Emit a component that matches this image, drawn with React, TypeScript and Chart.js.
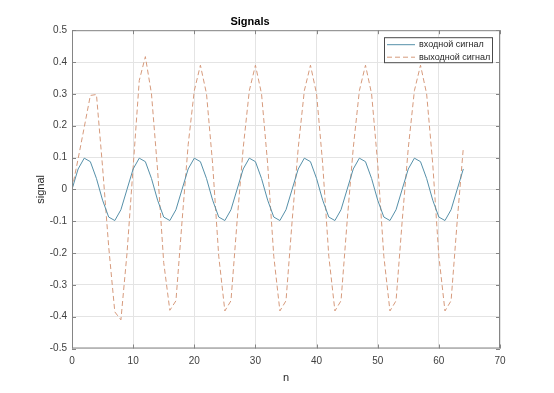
import React, { useEffect, useRef } from "react";
import { Chart, registerables } from "chart.js";

Chart.register(...registerables);

const nValues: number[] = [
  0, 1, 2, 3, 4, 5, 6, 7, 8, 9, 10, 11, 12, 13, 14, 15, 16, 17, 18, 19, 20,
  21, 22, 23, 24, 25, 26, 27, 28, 29, 30, 31, 32, 33, 34, 35, 36, 37, 38, 39,
  40, 41, 42, 43, 44, 45, 46, 47, 48, 49, 50, 51, 52, 53, 54, 55, 56, 57, 58,
  59, 60, 61, 62, 63, 64,
];

const inputSignal: number[] = [
  0, 0.064, 0.098, 0.087, 0.034, -0.034, -0.087, -0.098, -0.064,
  0, 0.064, 0.098, 0.087, 0.034, -0.034, -0.087, -0.098, -0.064,
  0, 0.064, 0.098, 0.087, 0.034, -0.034, -0.087, -0.098, -0.064,
  0, 0.064, 0.098, 0.087, 0.034, -0.034, -0.087, -0.098, -0.064,
  0, 0.064, 0.098, 0.087, 0.034, -0.034, -0.087, -0.098, -0.064,
  0, 0.064, 0.098, 0.087, 0.034, -0.034, -0.087, -0.098, -0.064,
  0, 0.064, 0.098, 0.087, 0.034, -0.034, -0.087, -0.098, -0.064,
  0, 0.064,
];

const outputSignal: number[] = [
  0, 0.096, 0.195, 0.295, 0.298, 0.07, -0.18, -0.385, -0.41,
  -0.2, 0.07, 0.342, 0.417, 0.3, 0.06, -0.23, -0.38, -0.35,
  -0.1, 0.14, 0.31, 0.39, 0.3, 0.08, -0.21, -0.382, -0.35,
  -0.1, 0.13, 0.31, 0.39, 0.3, 0.08, -0.21, -0.382, -0.35,
  -0.1, 0.13, 0.31, 0.39, 0.3, 0.08, -0.21, -0.382, -0.35,
  -0.1, 0.13, 0.31, 0.39, 0.3, 0.08, -0.21, -0.382, -0.35,
  -0.1, 0.13, 0.31, 0.39, 0.3, 0.08, -0.21, -0.382, -0.35,
  -0.1, 0.13,
];

const seriesLabels: string[] = ["входной сигнал", "выходной сигнал"];
const titleText = "Signals";
const xTitle = "n";
const yTitle = "signal";

const FONT = "'Liberation Sans', Arial, Helvetica, sans-serif";
const BOX = "#858585";
const INPUT_COLOR = "#5690a9";
const OUTPUT_COLOR = "#d69a7c";

const boxPlugin = {
  id: "matlabBox",
  afterDraw(chart: any) {
    const { ctx, chartArea: a, scales } = chart;
    ctx.save();
    ctx.strokeStyle = BOX;
    ctx.lineWidth = 1;
    ctx.setLineDash([]);
    ctx.strokeRect(a.left + 0.5, a.top + 0.5, a.right - a.left - 1, a.bottom - a.top - 1);
    const tl = 4;
    ctx.beginPath();
    scales.x.ticks.forEach((t: any) => {
      const px = Math.round(scales.x.getPixelForValue(t.value)) + 0.5;
      ctx.moveTo(px, a.bottom);
      ctx.lineTo(px, a.bottom - tl);
      ctx.moveTo(px, a.top);
      ctx.lineTo(px, a.top + tl);
    });
    scales.y.ticks.forEach((t: any) => {
      const py = Math.round(scales.y.getPixelForValue(t.value)) + 0.5;
      ctx.moveTo(a.left, py);
      ctx.lineTo(a.left + tl, py);
      ctx.moveTo(a.right, py);
      ctx.lineTo(a.right - tl, py);
    });
    ctx.stroke();

    // legend
    const bw = 109;
    const bh = 26;
    const bx = a.right - 7 - bw;
    const by = a.top + 7;
    ctx.fillStyle = "#ffffff";
    ctx.fillRect(bx, by, bw, bh);
    ctx.strokeStyle = "#4a4a4a";
    ctx.strokeRect(bx + 0.5, by + 0.5, bw - 1, bh - 1);
    ctx.font = `9px ${FONT}`;
    ctx.textBaseline = "middle";
    ctx.textAlign = "left";
    chart.data.datasets.forEach((ds: any, i: number) => {
      const y = by + 7.5 + i * 12.5;
      ctx.strokeStyle = ds.borderColor;
      ctx.lineWidth = 1;
      ctx.setLineDash(ds.borderDash || []);
      ctx.beginPath();
      ctx.moveTo(bx + 3, y);
      ctx.lineTo(bx + 31, y);
      ctx.stroke();
      ctx.setLineDash([]);
      ctx.fillStyle = "#262626";
      ctx.fillText(ds.label, bx + 35, y);
    });
    ctx.restore();
  },
};

export default function App() {
  const canvasRef = useRef<HTMLCanvasElement | null>(null);

  useEffect(() => {
    document.body.style.margin = "0";
    const canvas = canvasRef.current;
    if (!canvas) return;
    const chart = new Chart(canvas, {
      type: "line",
      data: {
        datasets: [
          {
            label: seriesLabels[0],
            data: nValues.map((n, i) => ({ x: n, y: inputSignal[i] })),
            borderColor: INPUT_COLOR,
            borderWidth: 1,
            pointRadius: 0,
            tension: 0,
            fill: false,
          },
          {
            label: seriesLabels[1],
            data: nValues.map((n, i) => ({ x: n, y: outputSignal[i] })),
            borderColor: OUTPUT_COLOR,
            borderWidth: 1,
            borderDash: [5, 3],
            pointRadius: 0,
            tension: 0,
            fill: false,
          },
        ],
      },
      options: {
        animation: false,
        responsive: false,
        devicePixelRatio: 1,
        layout: { padding: { left: 0, right: 54, top: 0, bottom: 0 } },
        plugins: {
          legend: { display: false },
          tooltip: { enabled: false },
          title: {
            display: true,
            text: titleText,
            color: "#000000",
            font: { family: FONT, size: 11, weight: "bold" },
            padding: { top: 15, bottom: 2 },
          },
        },
        scales: {
          x: {
            type: "linear",
            min: 0,
            max: 70,
            ticks: {
              stepSize: 10,
              color: "#404040",
              font: { family: FONT, size: 10 },
              padding: 7,
              maxRotation: 0,
            },
            grid: { color: "#e4e4e4", drawTicks: false },
            border: { display: false },
            title: {
              display: true,
              text: xTitle,
              color: "#262626",
              font: { family: FONT, size: 11 },
              padding: { top: 0, bottom: 8 },
            },
            afterFit: (s: any) => {
              s.height = 44.5;
            },
          },
          y: {
            type: "linear",
            min: -0.5,
            max: 0.5,
            ticks: {
              stepSize: 0.1,
              color: "#404040",
              font: { family: FONT, size: 10 },
              padding: 5,
              callback: (v: any) => String(Number(Number(v).toFixed(1))),
            },
            grid: { color: "#e4e4e4", drawTicks: false },
            border: { display: false },
            title: {
              display: true,
              text: yTitle,
              color: "#262626",
              font: { family: FONT, size: 11 },
              padding: { top: 34, bottom: 0 },
            },
            afterFit: (s: any) => {
              s.width = 72;
            },
          },
        },
      },
      plugins: [boxPlugin],
    });
    return () => chart.destroy();
  }, []);

  return (
    <div style={{ position: "absolute", left: 0, top: 0, width: 554, height: 393, background: "#fff" }}>
      <canvas ref={canvasRef} width={554} height={393} style={{ width: 554, height: 393 }} />
    </div>
  );
}
